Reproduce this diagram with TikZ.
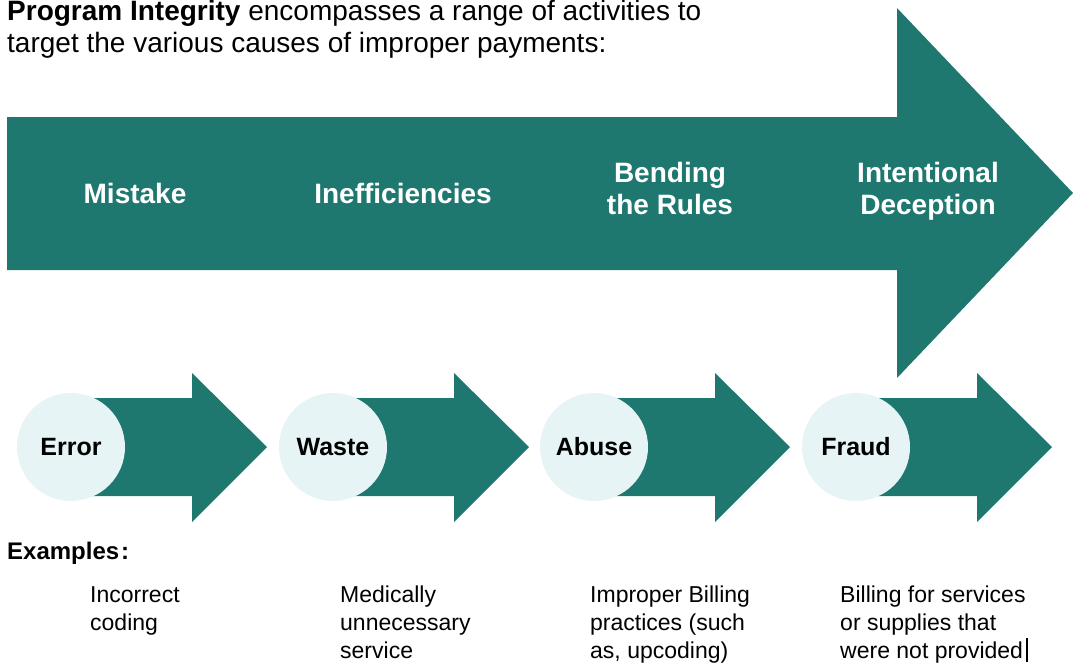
\documentclass[tikz,border=0pt]{standalone}
\usepackage{fontspec}
\setmainfont{Liberation Sans}
\usetikzlibrary{positioning}
\tikzstyle{diagram} = [x = 1pt, y = -1pt]
\definecolor{arrowTeal}{RGB}{31,120,112}
\definecolor{circleFill}{RGB}{230,244,246}
\tikzstyle{arrowStyle} = [fill=arrowTeal]
\tikzstyle{titleText} = [anchor=base west, inner sep=0pt, font=\fontsize{28}{32}\selectfont]
\tikzstyle{causeText} = [text=white, anchor=base, align=center, inner sep=0pt, font=\bfseries\fontsize{28}{32}\selectfont]
\tikzstyle{circleStyle} = [circle, fill=circleFill, minimum size=108pt, inner sep=0pt, font=\bfseries\fontsize{25}{28}\selectfont]
\tikzstyle{exampleText} = [anchor=base west, align=left, inner sep=0pt, font=\fontsize{23}{28}\selectfont]
\newcommand{\headX}{121}
\newcommand{\tipX}{196}
\newcommand{\smallArrow}[3]{\fill [arrowStyle] (#2 + 20, 398) -- (#2 + \headX, 398) -- (#2 + \headX, 373) -- (#2 + \tipX, 447) -- (#2 + \headX, 522) -- (#2 + \headX, 496) -- (#2 + 20, 496) -- cycle; \node [circleStyle] (#1) at (#2, 447) {#3};}
% last line of the examples sits on the base anchor
\newcommand{\exampleLines}[4]{\node [exampleText] (#1) at (#2, 602 + 28 * #3) {#4};}
\begin{document}
\begin{tikzpicture}[diagram]
  \useasboundingbox (0,0) rectangle (1073,665);
  \node [titleText] (titleOne) at (7,20) {\textbf{Program Integrity} encompasses a range of activities to};
  \node [titleText] (titleTwo) at (7,52) {target the various causes of improper payments:};
  % big arrow
  \fill [arrowStyle] (7,117) -- (897,117) -- (897,8) -- (1073,193) -- (897,378) -- (897,270) -- (7,270) -- cycle;
  \node [causeText] (mistake) at (135,203) {Mistake};
  \node [causeText] (inefficiencies) at (403,203) {Inefficiencies};
  \node [causeText] (bending) at (670,214) {Bending\\the Rules};
  \node [causeText] (deception) at (928,214) {Intentional\\Deception};
  % small arrows
  \smallArrow{error}{71}{Error}\smallArrow{waste}{333}{Waste}\smallArrow{abuse}{594}{Abuse}\smallArrow{fraud}{856}{Fraud}
  \node [exampleText, font=\bfseries\fontsize{24}{28}\selectfont] (examples) at (7,559) {Examples\hspace{2pt}:};
  \exampleLines{exError}{90}{1}{Incorrect\\coding}
  \exampleLines{exWaste}{340}{2}{Medically\\unnecessary\\service}
  \exampleLines{exAbuse}{590}{2}{Improper Billing\\practices (such\\as, upcoding)}
  \exampleLines{exFraud}{840}{2}{Billing for services\\or supplies that\\were not provided}
  \draw [line width=1.3pt] (1027,638) -- (1027,662);
\end{tikzpicture}
\end{document}
